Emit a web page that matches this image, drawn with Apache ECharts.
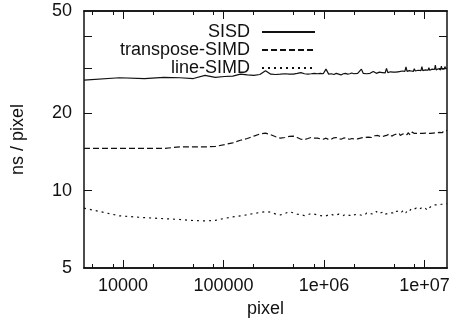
<!DOCTYPE html>
<html>
<head>
<meta charset="utf-8">
<script src="https://cdn.jsdelivr.net/npm/echarts@6/dist/echarts.min.js"></script>
<style>
html,body{margin:0;padding:0;background:#fff;}
#chart{width:458px;height:329px;}
</style>
</head>
<body>
<div id="chart"></div>
<script>
// x: image size in pixels
var pixels = [4096, 9216, 16384, 25600, 36864, 50176, 65536, 82944, 102400, 123904, 147456, 173056, 200704, 230400, 262144,
  295936, 331776, 369664, 409600, 451584, 495616, 541696, 589824, 640000, 692224, 746496, 802816, 861184, 921600, 984064, 1048576,
  1115136, 1183744, 1254400, 1327104, 1401856, 1478656, 1557504, 1638400, 1721344, 1806336, 1893376, 1982464, 2073600, 2166784, 2262016, 2359296,
  2458624, 2560000, 2663424, 2768896, 2876416, 2985984, 3097600, 3211264, 3326976, 3444736, 3564544, 3686400, 3810304, 3936256, 4064256, 4194304,
  4326400, 4460544, 4596736, 4734976, 4875264, 5017600, 5161984, 5308416, 5456896, 5607424, 5760000, 5914624, 6071296, 6230016, 6390784, 6553600,
  6718464, 6885376, 7054336, 7225344, 7398400, 7573504, 7750656, 7929856, 8111104, 8294400, 8479744, 8667136, 8856576, 9048064, 9241600, 9437184,
  9634816, 9834496, 10036224, 10240000, 10446336, 10653696, 10863616, 11075584, 11289600, 11505664, 11723776, 11943936, 12166144, 12390400, 12616704, 12845056,
  13075456, 13307904, 13542400, 13778944, 14017536, 14258176, 14500864, 14745600, 14992384, 15241216, 15492096, 15745024, 16000000, 16257024, 16516096, 16777216];

var sisd = [26.9, 27.5, 27.3, 27.6, 27.5, 27.3, 28.1, 27.6, 27.8, 27.9, 28.4, 28.2, 28.1, 28.3, 29.3,
  28.4, 28.3, 28.4, 28.5, 28.4, 28.4, 28.6, 28.8, 28.5, 28.4, 28.5, 28.6, 28.5, 28.6, 28.5, 29.7,
  28.4, 28.5, 28.3, 28.6, 28.4, 28.2, 28.5, 28.6, 28.4, 28.5, 28.7, 28.5, 28.4, 28.6, 28.5, 29.7,
  28.6, 28.7, 28.5, 28.8, 28.6, 28.7, 29.1, 28.8, 28.6, 28.7, 28.9, 28.7, 28.8, 28.9, 28.7, 29.9,
  28.8, 28.9, 29.0, 28.8, 28.9, 29.2, 28.9, 29.3, 29.0, 28.9, 29.1, 29.0, 29.2, 29.0, 29.1, 30.3,
  29.1, 29.0, 29.3, 29.1, 29.2, 29.5, 29.1, 29.8, 29.2, 29.3, 29.1, 29.4, 29.2, 29.6, 29.3, 30.4,
  29.3, 29.4, 29.2, 29.5, 29.3, 29.6, 29.4, 30.1, 29.4, 29.5, 29.3, 29.7, 29.5, 29.4, 29.6, 30.8,
  29.5, 29.6, 29.4, 29.8, 29.6, 30.2, 29.5, 30.5, 29.7, 29.6, 29.9, 29.7, 30.4, 29.8, 29.9, 29.8];

var transposeSimd = [14.6, 14.6, 14.6, 14.6, 14.8, 14.8, 14.8, 14.85, 15.1, 15.35, 15.7, 15.95, 16.3, 16.6, 16.75,
  16.5, 16.2, 16.0, 16.1, 16.25, 16.3, 16.1, 15.85, 15.8, 15.95, 16.1, 16.0, 16.0, 15.9, 15.85, 16.0,
  15.8, 15.85, 16.05, 16.1, 15.95, 15.85, 16.0, 16.05, 15.9, 15.85, 15.95, 15.9, 16.0, 15.9, 15.85, 16.05,
  15.95, 16.1, 16.0, 16.15, 16.3, 16.1, 16.2, 16.35, 16.2, 16.4, 16.3, 16.2, 16.45, 16.3, 16.5, 16.4,
  16.35, 16.6, 16.4, 16.3, 16.55, 16.5, 16.4, 16.6, 16.5, 16.7, 16.4, 16.55, 16.6, 16.45, 16.7, 16.6,
  16.5, 16.8, 16.6, 16.45, 16.7, 16.9, 16.6, 16.7, 16.55, 16.8, 16.7, 16.5, 16.85, 16.7, 16.6, 16.8,
  16.7, 16.6, 16.9, 16.75, 16.6, 16.8, 16.7, 16.55, 16.8, 16.7, 16.9, 16.6, 16.75, 16.85, 16.7, 16.8,
  16.65, 16.9, 16.8, 17.0, 16.75, 16.85, 16.7, 16.9, 16.8, 17.0, 16.85, 17.1, 16.9, 17.0, 17.1, 17.2];

var lineSimd = [8.55, 7.98, 7.85, 7.78, 7.72, 7.65, 7.62, 7.66, 7.8, 7.9, 7.98, 8.05, 8.15, 8.22, 8.28,
  8.25, 8.1, 8.05, 8.15, 8.28, 8.2, 8.1, 8.05, 8.0, 8.05, 8.15, 8.1, 8.05, 8.0, 7.95, 7.98,
  8.05, 8.1, 8.0, 8.05, 8.1, 8.02, 8.0, 8.08, 8.05, 8.0, 8.1, 8.05, 8.0, 8.1, 8.15, 8.02,
  8.1, 8.05, 8.2, 8.1, 8.15, 8.25, 8.1, 8.2, 8.3, 8.15, 8.1, 8.2, 8.15, 8.25, 8.1, 8.05,
  8.15, 8.25, 8.2, 8.3, 8.2, 8.35, 8.25, 8.3, 8.2, 8.35, 8.4, 8.25, 8.3, 8.4, 8.3, 8.2,
  8.35, 8.45, 8.3, 8.4, 8.5, 8.35, 8.45, 8.4, 8.5, 8.55, 8.4, 8.6, 8.45, 8.35, 8.5, 8.6,
  8.5, 8.45, 8.6, 8.7, 8.55, 8.4, 8.3, 8.55, 8.6, 8.7, 8.65, 8.75, 8.6, 8.7, 8.8, 8.7,
  8.75, 8.8, 8.7, 8.85, 8.8, 8.75, 8.9, 8.85, 8.8, 8.9, 8.85, 8.95, 8.9, 8.85, 8.95, 8.9];

var seriesNames = ['SISD', 'transpose-SIMD', 'line-SIMD'];
var xTickValues = [10000, 100000, 1000000, 10000000];
var xTickLabels = ['10000', '100000', '1e+06', '1e+07'];
var xMinorTicks = [5000, 8000, 20000, 50000, 80000, 200000, 500000, 800000, 2000000, 5000000, 8000000];
var yLabelValues = [5, 10, 20, 50];
var yTickValues = [10, 20, 30, 40];

function pairs(ys) { return pixels.map(function (x, i) { return [x, ys[i]]; }); }
function xLabel(v) {
  for (var i = 0; i < xTickValues.length; i++) {
    if (Math.abs(v / xTickValues[i] - 1) < 1e-6) return xTickLabels[i];
  }
  return '';
}

var FONT = 'Liberation Sans, Arial, Helvetica, sans-serif';
var INK = '#111';
var lineAxis = { show: true, lineStyle: { color: INK, width: 1.5 } };

function xAxisDef(pos, ticks, len, labels, name) {
  return {
    type: 'log', logBase: 10, min: 4096, max: 16777216, position: pos,
    name: name || '', nameLocation: 'middle', nameGap: 25,
    nameTextStyle: { fontFamily: FONT, fontSize: 18, color: INK },
    axisLine: lineAxis,
    axisTick: { show: true, inside: true, length: len, customValues: ticks, lineStyle: { color: INK, width: 1 } },
    axisLabel: labels ? { show: true, customValues: labels, formatter: xLabel, margin: 9, fontFamily: FONT, fontSize: 18, color: INK } : { show: false },
    splitLine: { show: false }, minorTick: { show: false }
  };
}
function yAxisDef(pos, labels, name) {
  return {
    type: 'log', logBase: 10, min: 5, max: 50, position: pos,
    name: name || '', nameLocation: 'middle', nameGap: 57, nameRotate: 90,
    nameTextStyle: { fontFamily: FONT, fontSize: 18, color: INK },
    axisLine: lineAxis,
    axisTick: { show: true, inside: true, length: 8, customValues: yTickValues, lineStyle: { color: INK, width: 1 } },
    axisLabel: labels ? { show: true, customValues: yLabelValues, formatter: function (v) { return String(Math.round(v)); }, margin: 12, fontFamily: FONT, fontSize: 18, color: INK } : { show: false },
    splitLine: { show: false }
  };
}

var chart = echarts.init(document.getElementById('chart'), null, { renderer: 'canvas' });
chart.setOption({
  animation: false,
  backgroundColor: '#fff',
  grid: { left: 84, right: 11, top: 11, bottom: 61, containLabel: false },
  legend: {
    data: seriesNames,
    orient: 'vertical', align: 'right',
    right: 142, top: 23, padding: 0,
    itemWidth: 53, itemHeight: 14, itemGap: 0,
    itemStyle: { opacity: 0 },
    textStyle: { fontFamily: FONT, fontSize: 18, color: INK, lineHeight: 16, padding: [0, 7, 0, 0] }
  },
  xAxis: [
    xAxisDef('bottom', xTickValues, 8, xTickValues, 'pixel'),
    xAxisDef('bottom', xMinorTicks, 4, null),
    xAxisDef('top', xTickValues, 8, null),
    xAxisDef('top', xMinorTicks, 4, null)
  ],
  yAxis: [
    yAxisDef('left', true, 'ns / pixel'),
    yAxisDef('right', false)
  ],
  series: [
    { name: seriesNames[0], type: 'line', data: pairs(sisd), showSymbol: false, symbol: 'none',
      lineStyle: { color: INK, width: 1.2, type: 'solid' }, itemStyle: { color: INK } },
    { name: seriesNames[1], type: 'line', data: pairs(transposeSimd), showSymbol: false, symbol: 'none',
      lineStyle: { color: INK, width: 1.2, type: [6, 3] }, itemStyle: { color: INK } },
    { name: seriesNames[2], type: 'line', data: pairs(lineSimd), showSymbol: false, symbol: 'none',
      lineStyle: { color: INK, width: 1.2, type: [2, 4] }, itemStyle: { color: INK } }
  ]
});
</script>
</body>
</html>
